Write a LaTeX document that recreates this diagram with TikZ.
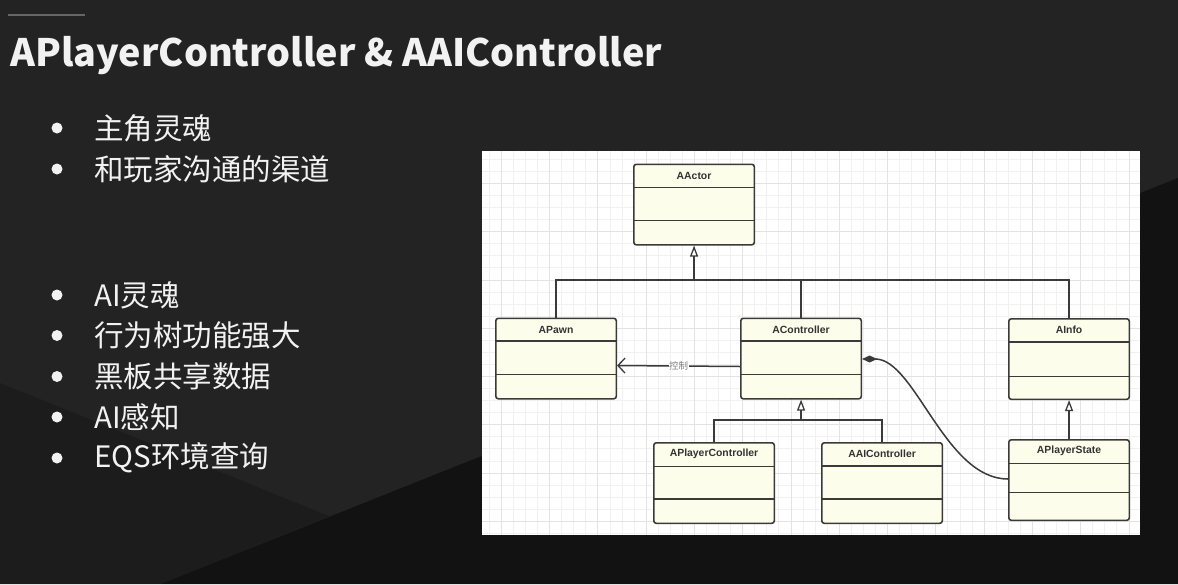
\documentclass[tikz,border=0pt]{standalone}
\usepackage{fontspec}
\usepackage{graphicx}
\usetikzlibrary{arrows.meta,calc}
\setmainfont{Liberation Sans}
\newfontfamily\cjk{Noto Sans CJK SC}
\newfontfamily\umlfont{Liberation Sans}
\definecolor{bgA}{HTML}{232323}
\definecolor{bgB}{HTML}{1C1C1C}
\definecolor{bgC}{HTML}{121212}
\definecolor{gridminor}{HTML}{F1F1F1}
\definecolor{gridmajor}{HTML}{E3E3E3}
\definecolor{clsfill}{HTML}{FDFDEB}
\definecolor{clsdraw}{HTML}{3A3A3A}
\definecolor{txtwhite}{HTML}{F2F2F2}
\newcommand{\umlbox}[6]{%
  \node[clsbox, anchor=north west] (#1) at (#2,#3) {};
  \node[clstitle] (#1t) at ($(#1.north)+(0,12)$) {#4};
  \draw[clsline] ($(#1.north west)+(0,#5)$) -- ($(#1.north east)+(0,#5)$);
  \draw[clsline] ($(#1.north west)+(0,#6)$) -- ($(#1.north east)+(0,#6)$);
}
\begin{document}
\begin{tikzpicture}[x=1pt,y=-1pt,
  clsbox/.style={draw=clsdraw, fill=clsfill, line width=1.6pt, rounded corners=2.5pt,
    minimum width=120.5pt, minimum height=80.5pt, inner sep=0pt},
  clstitle/.style={font=\umlfont\bfseries\fontsize{10.4}{12}\selectfont, text=black!80, inner sep=0pt},
  clsline/.style={draw=clsdraw, line width=1.4pt},
  conn/.style={draw=clsdraw, line width=1.5pt},
  genarrow/.style={conn, -{Triangle[length=11pt,width=8pt,fill=white,line width=1.3pt]}},
  ctrlarrow/.style={conn, -{Straight Barb[length=7pt,width=15pt,line width=1.3pt]}},
  comparrow/.style={conn, {Diamond[length=15pt,width=7pt]}-},
  ctrllabel/.style={font=\cjk\fontsize{9.5}{10}\selectfont, text=black!50, fill=white, inner sep=0.5pt},
  bulletdot/.style={circle, fill=txtwhite, minimum size=11pt, inner sep=0pt},
  bullettext/.style={anchor=west, text=txtwhite, font=\cjk\fontsize{29.5}{32}\selectfont, inner sep=0pt},
  topline/.style={draw=black!60, line width=1.8pt}
]
\useasboundingbox (0,0) rectangle (1178,584);
% background
\fill[bgA] (0,0) rectangle (1178,584);
\fill[bgB] (0,383) -- (329,516) -- (161,584) -- (0,584) -- cycle;
\fill[bgC] (161,584) -- (1178,178) -- (1178,584) -- cycle;
\draw[topline] (8,15) -- (85,15);

% title
\node[anchor=base west, inner sep=0pt, text=txtwhite] (title) at (10,66)
  {\resizebox{652pt}{!}{\cjk\bfseries APlayerController \& AAIController}};

% bullets
\node[bulletdot] (d1) at (57,128) {};
\node[bullettext] (t1) at (94,128) {主角灵魂};
\node[bulletdot] (d2) at (57,169) {};
\node[bullettext] (t2) at (94,169) {和玩家沟通的渠道};
\node[bulletdot] (d3) at (57,295) {};
\node[bullettext] (t3) at (94,295) {AI灵魂};
\node[bulletdot] (d4) at (57,335.5) {};
\node[bullettext] (t4) at (94,335.5) {行为树功能强大};
\node[bulletdot] (d5) at (57,376.5) {};
\node[bullettext] (t5) at (94,376.5) {黑板共享数据};
\node[bulletdot] (d6) at (57,417) {};
\node[bullettext] (t6) at (94,417) {AI感知};
\node[bulletdot] (d7) at (57,458) {};
\node[bullettext] (t7) at (94,458) {EQS环境查询};

% diagram panel
\fill[white] (482,151) rectangle (1140,535);
\begin{scope}
  \clip (482,151) rectangle (1140,535);
  \foreach \i in {0,...,54} {\draw[gridminor, line width=1pt] ({489.3+12.07*\i},151) -- ++(0,384);}
  \foreach \i in {0,...,31} {\draw[gridminor, line width=1pt] (482,{159.3+12.07*\i}) -- ++(658,0);}
  \foreach \i in {1,5,...,53} {\draw[gridmajor, line width=1pt] ({489.3+12.07*\i},151) -- ++(0,384);}
  \foreach \i in {2,6,...,30} {\draw[gridmajor, line width=1pt] (482,{159.3+12.07*\i}) -- ++(658,0);}
\end{scope}

% classes
\umlbox{aactor}{633}{163.5}{AActor}{24}{57}
\umlbox{apawn}{495}{317.5}{APawn}{23.5}{57}
\umlbox{actrl}{740}{317.5}{AController}{23.5}{57}
\umlbox{ainfo}{1008}{318}{AInfo}{24}{58.5}
\umlbox{apc}{653}{442}{APlayerController}{24.3}{57}
\umlbox{aaic}{821}{442}{AAIController}{24}{57}
\umlbox{aps}{1008}{439}{APlayerState}{24.3}{53.3}

% generalisation to AActor
\coordinate (hubA) at (aactor.south |- 0,280);
\draw[conn] (apawn.north) |- (hubA);
\draw[conn] (ainfo.north) |- (hubA);
\draw[conn] (actrl.north) -- (actrl.north |- hubA);
\draw[genarrow] (hubA) -- (aactor.south);

% generalisation to AController
\coordinate (hubC) at (actrl.south |- 0,420);
\draw[conn] (apc.north) |- (hubC);
\draw[conn] (aaic.north) |- (hubC);
\draw[genarrow] (hubC) -- (actrl.south);

% generalisation to AInfo
\draw[genarrow] (aps.north) -- (ainfo.south);

% control association
\draw[ctrlarrow] (actrl.west |- 0,366.5) -- node[ctrllabel, pos=0.5] (ctrl) {控制} (apawn.east |- 0,365.5);

% composition
\draw[comparrow] (actrl.east |- 0,359) .. controls (915,359) and (945,479) .. (aps.west |- 0,479);
\end{tikzpicture}
\end{document}
